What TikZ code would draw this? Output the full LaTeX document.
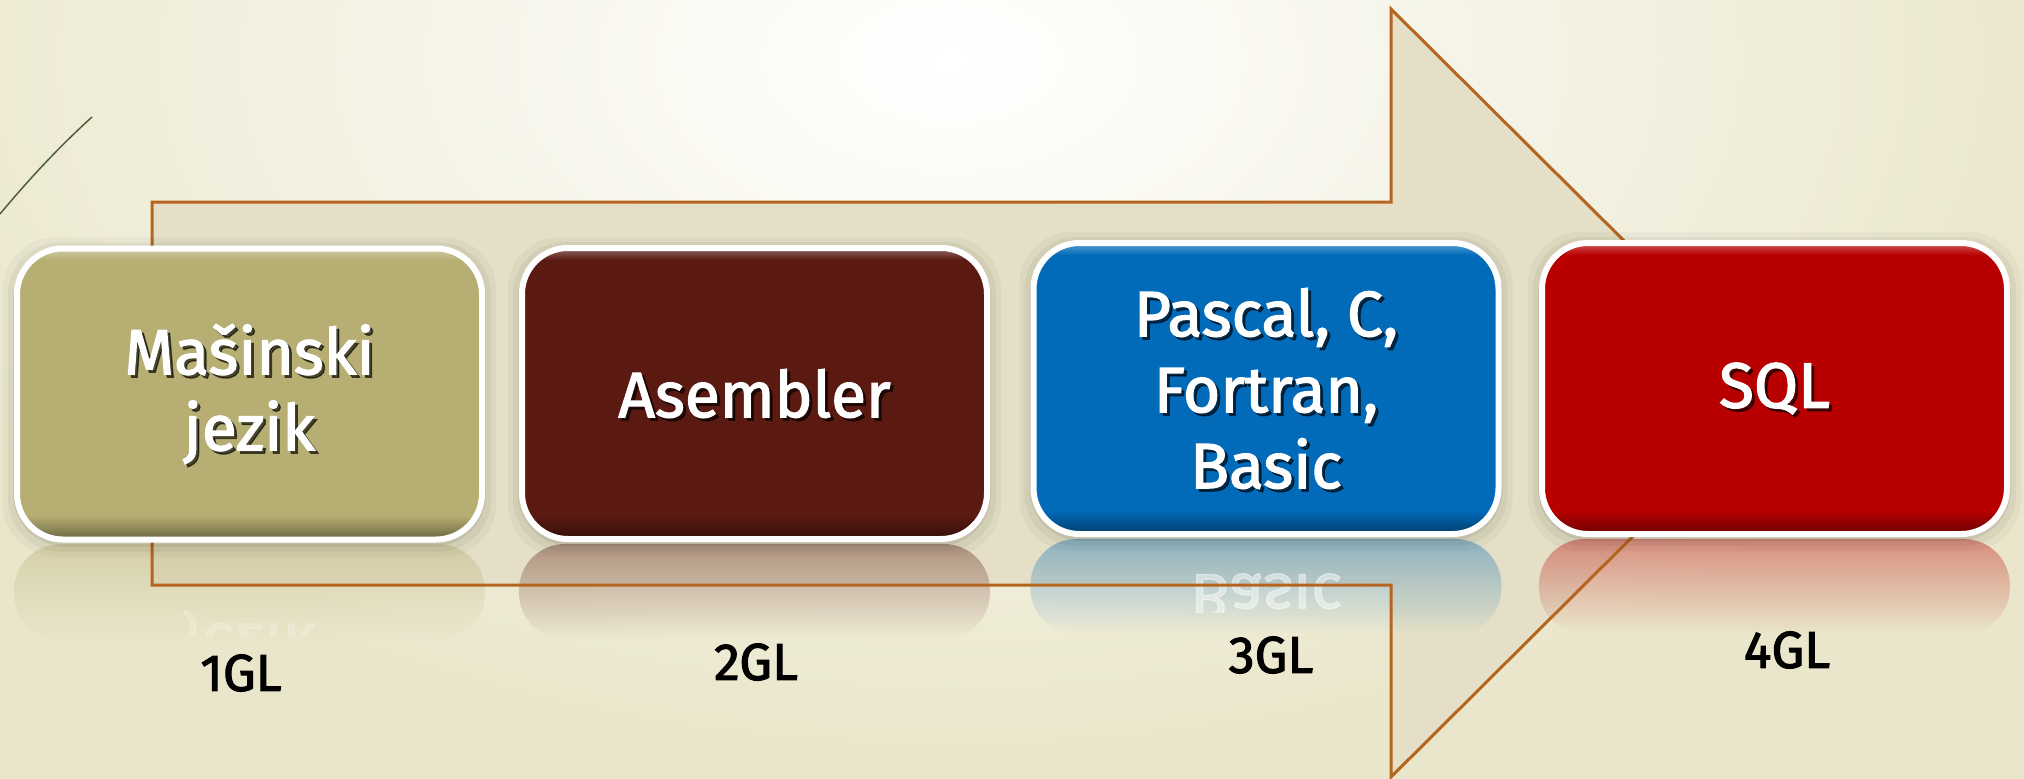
\documentclass[tikz,border=0pt]{standalone}
\usepackage{fontspec}
\setmainfont{Fira Sans}
\newfontfamily\semibfont{Fira Sans}[FakeBold=2]
\usepackage{graphicx}
\usetikzlibrary{calc,fadings}
\definecolor{bgbase}{HTML}{EAE6CB}
\definecolor{arrowfill}{HTML}{E4DFC6}
\definecolor{arrowline}{HTML}{B5651D}
\definecolor{cA}{HTML}{B6AE72}
\definecolor{cB}{HTML}{5A1A12}
\definecolor{cC}{HTML}{016BBA}
\definecolor{cD}{HTML}{B80000}
\definecolor{deco}{HTML}{4E5F3A}
\tikzfading[name=reflfade, top color=transparent!62, bottom color=transparent!100]
\newcommand\GBoxDraw[2]{%
  \foreach \sz/\op in {14/0.03,9/0.045,4/0.07}{%
    \fill[black, opacity=\op, rounded corners=52pt]
      ($(#1.south west)+(-\sz,\sz+3)$) rectangle ($(#1.north east)+(\sz,-\sz+3)$);
  }%
  \fill[#2, rounded corners=46pt] (#1.south west) rectangle (#1.north east);
  \begin{scope}
    \clip[rounded corners=46pt] (#1.south west) rectangle (#1.north east);
    \shade[top color=#2, bottom color=#2!55!black] ($(#1.south west)+(0,-24)$) rectangle ($(#1.south east)+(0,2)$);
    \shade[top color=#2!60!white, bottom color=#2] ($(#1.north west)+(0,-2)$) rectangle ($(#1.north east)+(0,12)$);
  \end{scope}
  \draw[white, line width=6pt, rounded corners=46pt] (#1.south west) rectangle (#1.north east);
}
\newcommand\ArrowPath{(152,202) -- (1391,202) -- (1391,9) -- (1777,393) -- (1391,777) -- (1391,585) -- (152,585) -- cycle}
\begin{document}
\begin{tikzpicture}[x=1pt,y=-1pt,
  gshape/.style={rectangle, minimum width=465pt, minimum height=291pt, inner sep=0pt, outer sep=0pt},
  btext/.style={font=\fontsize{64}{76}\selectfont\semibfont, align=center, text=white, inner sep=0pt},
  tshadow/.style={btext, text=black, text opacity=0.6},
  lab/.style={font=\fontsize{52}{60}\selectfont\semibfont, text=black, inner sep=0pt}]
\useasboundingbox (0,0) rectangle (2024,779);
% background
\fill[bgbase] (0,0) rectangle (2024,779);
\begin{scope}
  \clip (0,0) rectangle (2024,779);
  \shade[inner color=white, outer color=bgbase] (950,60) ellipse (1150pt and 700pt);
\end{scope}
\draw[deco, line width=1.5pt] (0,214) .. controls (30,178) and (60,146) .. (92,117);
% box placeholders
\node[gshape] (b1) at (249.5,394) {};
\node[gshape] (b2) at (754.5,393.5) {};
\node[gshape] (b3) at (1266,388.5) {};
\node[gshape] (b4) at (1774.5,388.5) {};
% arrow fill
\fill[arrowfill] \ArrowPath;
% reflections
\fill[cA, path fading=reflfade, rounded corners=46pt] ($(b1.south west)+(-3,5)$) rectangle ($(b1.south east)+(3,100)$);
\fill[cB, path fading=reflfade, rounded corners=46pt] ($(b2.south west)+(-3,5)$) rectangle ($(b2.south east)+(3,100)$);
\fill[cC, path fading=reflfade, rounded corners=46pt] ($(b3.south west)+(-3,5)$) rectangle ($(b3.south east)+(3,100)$);
\fill[cD, path fading=reflfade, rounded corners=46pt] ($(b4.south west)+(-3,5)$) rectangle ($(b4.south east)+(3,100)$);
\begin{scope}
  \clip (1031,545) rectangle (1501,612);
  \node[btext, text opacity=0.45] (r3) at (1266,599) {\scalebox{1}[-1]{Basic}};
\end{scope}
\begin{scope}
  \clip (13,548) rectangle (486,635);
  \node[btext, text opacity=0.18] (r1) at (249.5,642) {\scalebox{1}[-1]{jezik}};
\end{scope}
% arrow outline
\draw[arrowline, line width=3pt, line join=miter] \ArrowPath;
% boxes
\GBoxDraw{b1}{cA}
\GBoxDraw{b2}{cB}
\GBoxDraw{b3}{cC}
\GBoxDraw{b4}{cD}
% texts
\node[tshadow] at ($(b1)+(3,3)$) {Mašinski\\jezik};
\node[btext] (t1) at (b1) {Mašinski\\jezik};
\node[tshadow] at ($(b2)+(3,3)$) {Asembler};
\node[btext] (t2) at (b2) {Asembler};
\node[tshadow] at ($(b3)+(3,3)$) {Pascal, C,\\Fortran,\\Basic};
\node[btext] (t3) at (b3) {Pascal, C,\\Fortran,\\Basic};
\node[tshadow] at ($(b4)+(3,3)$) {SQL};
\node[btext] (t4) at (b4) {SQL};
% labels
\node[lab] (l1) at (241,673) {1GL};
\node[lab] (l2) at (756,662) {2GL};
\node[lab] (l3) at (1271,655) {3GL};
\node[lab] (l4) at (1787,650) {4GL};
\end{tikzpicture}
\end{document}
